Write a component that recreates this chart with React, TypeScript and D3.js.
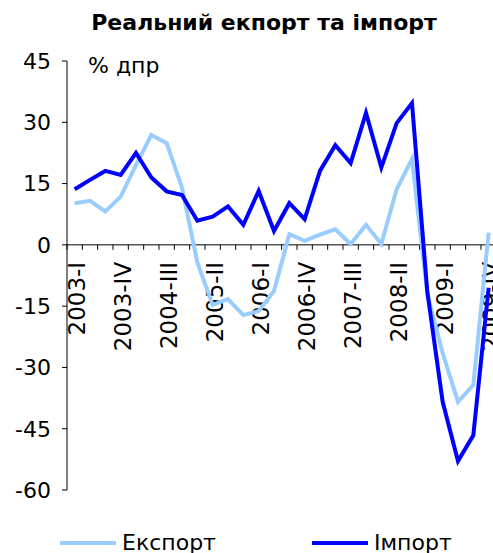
import React from "react";
import * as d3 from "d3";

const years = ["2003", "2004", "2005", "2006", "2007", "2008", "2009"];
const quarters = ["I", "II", "III", "IV"];
const categories: string[] = years.flatMap((y) => quarters.map((q) => `${y}-${q}`));

const exportValues = [
  10.2, 10.8, 8.2, 11.8, 19.5, 26.9, 24.9, 14.0,
  -4.3, -14.7, -13.3, -17.2, -16.2, -11.3, 2.6, 1.0,
  2.5, 3.8, 0.2, 4.9, 0.2, 13.6, 21.0, -12.0,
  -26.5, -38.4, -34.3, 3.0,
];
const importValues = [
  13.6, 15.9, 18.1, 17.1, 22.5, 16.5, 13.1, 12.2,
  5.9, 6.9, 9.4, 4.9, 13.2, 3.4, 10.2, 6.3,
  18.1, 24.4, 20.0, 32.3, 18.9, 29.8, 34.7, -11.5,
  -38.4, -52.9, -46.6, -10.5,
];
const yTicks = [-60, -45, -30, -15, 0, 15, 30, 45];

const title = "Реальний екпорт та імпорт";
const unitLabel = "% дпр";
const seriesNames = ["Експорт", "Імпорт"];
const colors = ["#99CCFF", "#0000FF"];

const W = 493;
const H = 553;
const plotLeft = 67;
const plotRight = 67 + 15.333 * 28;
const plotTop = 61;
const plotBottom = 490;
const FONT = "'DejaVu Sans', Verdana, sans-serif";

export default function App() {
  const x = d3.scaleBand<string>().domain(categories).range([plotLeft, plotRight]).padding(0);
  const y = d3.scaleLinear().domain([-60, 45]).range([plotBottom, plotTop]);
  const cx = (c: string) => (x(c) as number) + x.bandwidth() / 2;

  const line = d3
    .line<number>()
    .x((_, i) => cx(categories[i]))
    .y((d) => y(d));

  const series = [exportValues, importValues];
  const y0 = y(0);

  return (
    <svg
      width={W}
      height={H}
      style={{ position: "absolute", left: 0, top: 0, background: "#fff" }}
      fontFamily={FONT}
    >
      <text x={264} y={30} textAnchor="middle" fontWeight="bold" fontSize={22} fill="#000">
        {title}
      </text>
      <text x={88} y={73} fontSize={22} fill="#000">
        {unitLabel}
      </text>

      {/* Y axis */}
      <line x1={plotLeft} x2={plotLeft} y1={plotTop} y2={plotBottom} stroke="#000" strokeWidth={1} />
      {yTicks.map((t) => (
        <g key={t}>
          <line x1={plotLeft - 5} x2={plotLeft} y1={y(t)} y2={y(t)} stroke="#000" strokeWidth={1} />
          <text x={51} y={y(t)} dy="0.36em" textAnchor="end" fontSize={22} fill="#000">
            {t}
          </text>
        </g>
      ))}

      {/* X axis at zero */}
      <line x1={plotLeft} x2={plotRight} y1={y0} y2={y0} stroke="#000" strokeWidth={1} />
      {categories.map((c) => (
        <line
          key={c}
          x1={x(c) as number}
          x2={x(c) as number}
          y1={y0}
          y2={y0 + 5}
          stroke="#000"
          strokeWidth={1}
        />
      ))}
      {categories.map((c, i) =>
        i % 3 === 0 ? (
          <text
            key={"l" + c}
            transform={`translate(${cx(c) + 10},${y0 + 17}) rotate(-90)`}
            textAnchor="end"
            fontSize={23}
            fill="#000"
          >
            {c}
          </text>
        ) : null
      )}

      {/* Lines */}
      {series.map((s, k) => (
        <path
          key={k}
          d={line(s) || ""}
          fill="none"
          stroke={colors[k]}
          strokeWidth={4}
          strokeLinejoin="miter"
        />
      ))}

      {/* Legend */}
      {seriesNames.map((n, k) => {
        const lx = k === 0 ? 60 : 312;
        return (
          <g key={n}>
            <line x1={lx} x2={lx + 56} y1={543} y2={543} stroke={colors[k]} strokeWidth={4} />
            <text x={lx + 62} y={550} fontSize={22} fill="#000">
              {n}
            </text>
          </g>
        );
      })}
    </svg>
  );
}
